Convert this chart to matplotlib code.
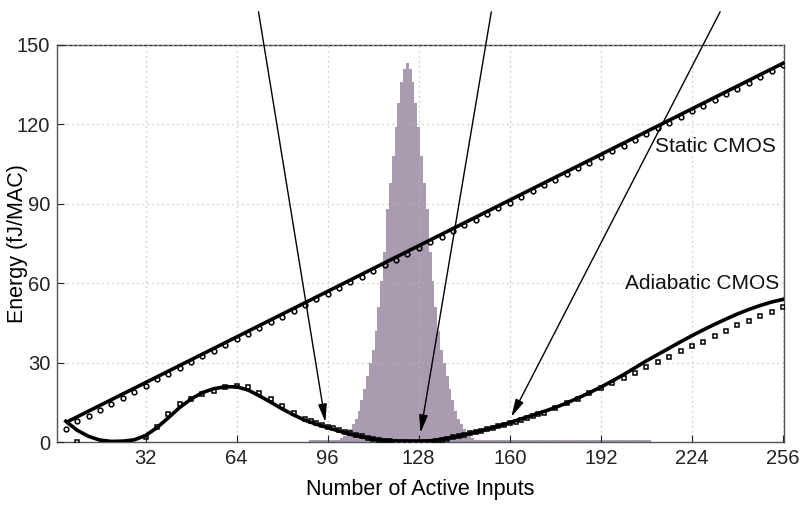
import matplotlib
matplotlib.use("Agg")
import matplotlib.pyplot as plt
import numpy as np

plt.rcParams['font.family'] = ['Liberation Sans', 'DejaVu Sans']

# ---- data ----
hist_start = 90
hist_vals = ([0.8]*10 +
             [1.1, 1.6, 2.5, 3.5, 5, 7, 9, 12, 16, 20, 25, 30, 35, 42, 51, 61, 72, 88, 98, 108, 119, 128, 136, 141,
              143,
              141, 136, 128, 119, 108, 98, 88, 72, 61, 51, 42, 35, 30, 25, 20, 16, 12, 9, 7, 5, 3.5, 2.5, 1.6, 1.1] +
             [0.8]*61)
hist_x = np.arange(hist_start, hist_start + len(hist_vals))

static_line_x = [4.5, 256]
static_line_y = [7.8, 143.1]

static_x = list(range(4, 257, 4))
static_y = [5.0, 8.1, 10.0, 12.3, 14.6, 16.9, 19.2, 21.5, 23.8, 26.0, 28.2, 30.3, 32.5, 34.6, 36.8, 38.9,
            41.1, 43.2, 45.4, 47.5, 49.7, 51.8, 54.0, 56.1, 58.3, 60.4, 62.6, 64.7, 66.9, 69.0, 71.2, 73.3,
            75.5, 77.6, 79.8, 81.9, 84.1, 86.2, 88.4, 90.5, 92.7, 94.8, 97.0, 99.1, 101.3, 103.4, 105.6, 107.7,
            109.9, 112.0, 114.2, 116.3, 118.5, 120.6, 122.8, 124.9, 127.1, 129.2, 131.4, 133.5, 135.7, 137.8, 140.0, 142.4]

adiab_curve_x = [4, 8, 12, 16, 20, 24, 28, 32, 36, 40, 44, 48, 52, 56, 60, 64, 68, 72, 76, 80, 84, 88, 92, 96,
                 100, 104, 108, 112, 116, 120, 124, 128, 132, 136, 140, 144, 148, 152, 156, 160, 164, 168, 172,
                 176, 180, 184, 188, 192, 196, 200, 204, 208, 212, 216, 220, 224, 228, 232, 236, 240, 244, 248, 252, 256]
adiab_curve_y = [8.0, 4.6, 2.3, 0.9, 0.4, 0.5, 1.0, 2.6, 5.6, 9.3, 13.2, 16.4, 18.8, 20.3, 21.0, 21.0, 19.8, 17.6,
                 15.2, 12.7, 10.4, 8.4, 6.9, 5.6, 4.3, 3.1, 2.1, 1.3, 0.8, 0.5, 0.4, 0.4, 0.6, 1.2, 2.0, 2.9, 3.9,
                 5.0, 6.2, 7.5, 8.9, 10.3, 11.7, 13.2, 14.9, 16.8, 18.8, 20.9, 23.2, 25.6, 28.2, 30.8, 33.2, 35.6,
                 38.0, 40.3, 42.5, 44.6, 46.6, 48.5, 50.2, 51.7, 53.0, 54.0]

adiab_x = [8, 32, 36, 40, 44, 48, 52, 56, 60, 64, 68, 72, 76, 80, 84, 88, 90, 92, 94, 96, 98, 100, 102, 104, 106,
           108, 110, 112, 114, 116, 118, 120, 122, 124, 126, 128, 130, 132, 134, 136, 138, 140, 142, 144, 146, 148,
           150, 152, 154, 156, 158, 160, 162, 164, 166, 168, 170, 172, 176, 180, 184, 188, 192, 196, 200, 204, 208,
           212, 216, 220, 224, 228, 232, 236, 240, 244, 248, 252, 256]
adiab_y = [0.3, 2.0, 6.0, 10.8, 14.5, 16.4, 18.3, 19.6, 21.1, 21.3, 21.1, 18.8, 16.4, 13.8, 11.2, 9.0, 8.2, 7.4,
           6.7, 6.0, 5.3, 4.6, 4.0, 3.4, 2.8, 2.3, 1.8, 1.3, 0.9, 0.6, 0.4, 0.3, 0.2, 0.2, 0.2, 0.2, 0.2, 0.3,
           0.6, 1.0, 1.4, 1.9, 2.4, 2.9, 3.4, 3.9, 4.4, 4.9, 5.5, 6.1, 6.7, 7.3, 7.9, 8.5, 9.2, 9.9, 10.6, 11.3,
           12.9, 14.8, 16.4, 18.6, 20.4, 22.3, 24.5, 26.3, 28.4, 30.3, 32.4, 34.5, 36.5, 38.0, 40.2, 42.2, 44.2,
           46.0, 47.7, 49.4, 51.2]

arrow_tips = [(95.2, 7.7), (128.6, 3.6), (160.5, 9.6)]
arrow_tails = [(71.7, 162.5), (153.5, 162.5), (233.9, 162.5)]

labels = [("Static CMOS", 211, 111.6), ("Adiabatic CMOS", 200.5, 60.1)]

xticks = [32, 64, 96, 128, 160, 192, 224, 256]
yticks = [0, 30, 60, 90, 120, 150]

# ---- plot ----
fig = plt.figure(figsize=(8.07, 5.05), dpi=100)
ax = fig.add_axes([0.071, 0.1238, 0.9, 0.7872])

ax.bar(hist_x, hist_vals, width=1.0, color='#a99cb0', edgecolor='none', zorder=1)

ax.grid(True, color='#b8b8b8', linestyle=(0, (1, 3)), linewidth=0.9, zorder=2)
ax.set_axisbelow(False)

ax.plot(static_line_x, static_line_y, color='black', lw=2.6, zorder=4)
ax.plot(static_x, static_y, linestyle='none', marker='o', markersize=3.4, mfc='none', mec='black', mew=1.1, zorder=3)
ax.plot(adiab_curve_x, adiab_curve_y, color='black', lw=2.6, zorder=4)
ax.plot(adiab_x, adiab_y, linestyle='none', marker='s', markersize=3.4, mfc='none', mec='black', mew=1.1, zorder=3)

for tip, tail in zip(arrow_tips, arrow_tails):
    ax.annotate('', xy=tip, xytext=tail, xycoords='data', textcoords='data', annotation_clip=False,
                arrowprops=dict(arrowstyle='-|>,head_length=0.9,head_width=0.22', color='black', lw=1.0,
                                mutation_scale=12, shrinkA=0, shrinkB=0), zorder=5)

for txt, x, y in labels:
    ax.text(x, y, txt, fontsize=15, va='center', ha='left', color='#111111', zorder=6)

ax.set_xlim(1, 256.2)
ax.set_ylim(0, 150)
ax.set_xticks(xticks)
ax.set_yticks(yticks)
ax.tick_params(direction='in', length=5, labelsize=14.5, colors='#222222', pad=5)
for s in ax.spines.values():
    s.set_color('#555555')
    s.set_linewidth(1.0)
ax.spines['top'].set_color('#333333')
ax.set_xlabel('Number of Active Inputs', fontsize=15.5)
ax.set_ylabel('Energy (fJ/MAC)', fontsize=15.5)
ax.yaxis.set_label_coords(-0.041, 0.5)
ax.xaxis.set_label_coords(0.5, -0.092)

fig.savefig('out.png', dpi=100, facecolor='white')
